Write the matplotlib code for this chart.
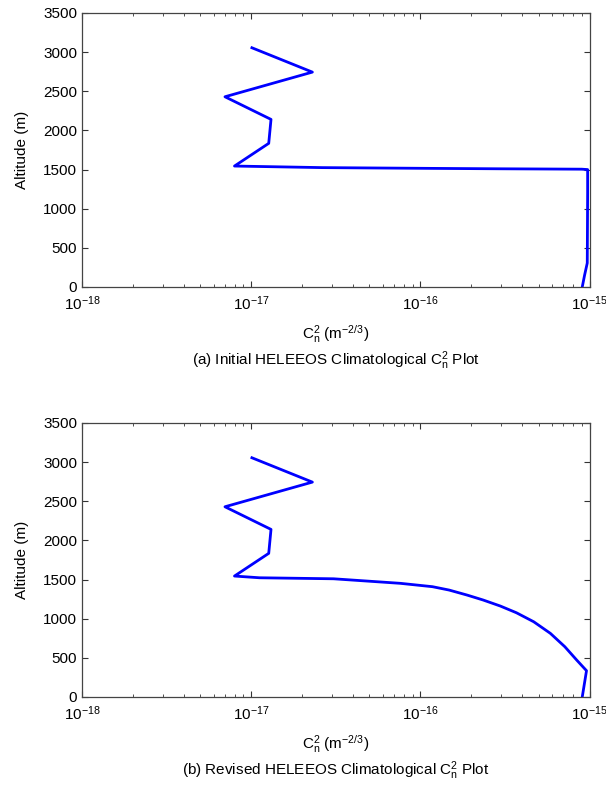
import matplotlib
matplotlib.use("Agg")
import matplotlib.pyplot as plt
from matplotlib.ticker import LogLocator, NullFormatter

plt.rcParams['font.family'] = ['Liberation Sans', 'DejaVu Sans']
plt.rcParams['mathtext.fontset'] = 'custom'
plt.rcParams['mathtext.rm'] = 'Liberation Sans'
plt.rcParams['mathtext.it'] = 'Liberation Sans'

# upper profile (shared by both panels), altitude in m
upper_alt = [3056, 2745, 2430, 2141, 1835, 1545]
upper_cn2 = [1.01e-17, 2.3e-17, 7.0e-18, 1.31e-17, 1.27e-17, 7.97e-18]

# (a) initial profile below the knee
init_alt = [1525, 1515, 1510, 1505, 1500, 1200, 306, 150, 0]
init_cn2 = [2.63e-17, 1.2e-16, 2.9e-16, 9.0e-16, 9.75e-16, 9.75e-16, 9.7e-16, 9.35e-16, 9.06e-16]

# (b) revised profile below the knee
rev_alt = [1523, 1510, 1481, 1452, 1409, 1366, 1302, 1239, 1162, 1076,
           961, 813, 642, 472, 336, 0]
rev_cn2 = [1.12e-17, 3.07e-17, 4.84e-17, 7.62e-17, 1.18e-16, 1.48e-16,
           1.89e-16, 2.35e-16, 2.97e-16, 3.7e-16, 4.68e-16, 5.87e-16,
           7.15e-16, 8.4e-16, 9.6e-16, 9.06e-16]

xticks = [1e-18, 1e-17, 1e-16, 1e-15]
xtick_labels = [r'$\mathregular{10^{-18}}$', r'$\mathregular{10^{-17}}$',
                r'$\mathregular{10^{-16}}$', r'$\mathregular{10^{-15}}$']
yticks = [0, 500, 1000, 1500, 2000, 2500, 3000, 3500]

W, H = 606, 788
fig = plt.figure(figsize=(W / 100, H / 100), dpi=100)
cn2_label = r'C$_\mathregular{n}^\mathregular{2}$ (m$^\mathregular{-2/3}$)'


def setup(ax):
    ax.set_xscale('log')
    ax.set_xlim(1e-18, 1e-15)
    ax.set_ylim(0, 3500)
    ax.set_xticks(xticks)
    ax.set_xticklabels(xtick_labels)
    ax.xaxis.set_minor_locator(LogLocator(base=10, subs=range(2, 10)))
    ax.xaxis.set_minor_formatter(NullFormatter())
    ax.set_yticks(yticks)
    ax.tick_params(which='both', direction='in', top=True, right=True,
                   labelsize=11, colors='#333333', labelcolor='black')
    ax.tick_params(axis='x', which='major', pad=5)
    ax.tick_params(which='major', length=4)
    ax.tick_params(which='minor', length=2.5)
    for s in ax.spines.values():
        s.set_color('#444444')
        s.set_linewidth(0.9)


def panel(top_px, caption, xs, ys):
    bottom_px = top_px + 274
    ax = fig.add_axes([82 / W, 1 - bottom_px / H, 507.5 / W, 274 / H])
    setup(ax)
    ax.plot(xs, ys, color='#0000ff', lw=2.0)
    cx = (82 + 589.5) / 2 / W
    fig.text(cx, 1 - (bottom_px + 52) / H, cn2_label, ha='center', va='baseline', fontsize=11)
    fig.text(cx, 1 - (bottom_px + 78) / H, caption, ha='center', va='baseline', fontsize=11)
    fig.text(22 / W, 1 - (top_px + 137) / H, 'Altitude (m)', rotation=90,
             ha='center', va='center', fontsize=11)
    return ax


panel(13, r'(a) Initial HELEEOS Climatological C$_\mathregular{n}^\mathregular{2}$ Plot',
      upper_cn2 + init_cn2, upper_alt + init_alt)
panel(423, r'(b) Revised HELEEOS Climatological C$_\mathregular{n}^\mathregular{2}$ Plot',
      upper_cn2 + rev_cn2, upper_alt + rev_alt)

fig.savefig('out.png', dpi=100)
